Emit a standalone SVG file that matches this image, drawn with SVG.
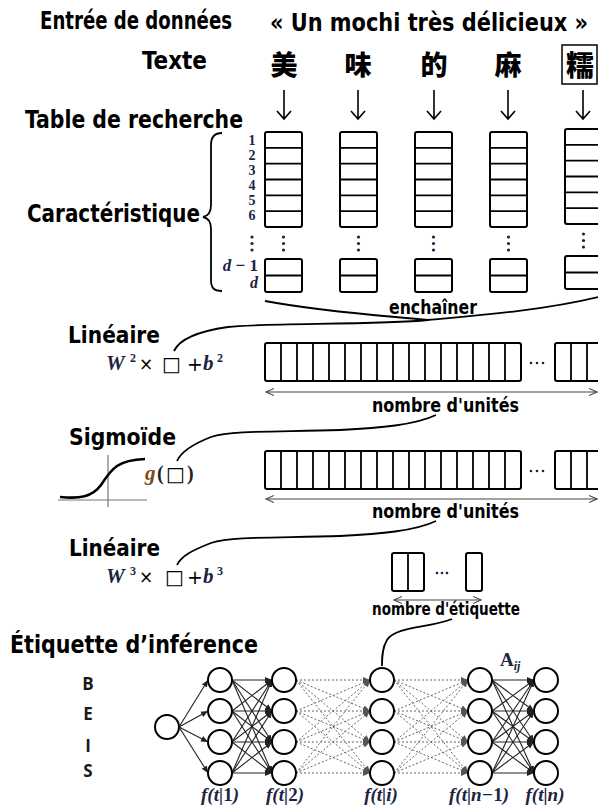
<svg xmlns="http://www.w3.org/2000/svg" xmlns:xlink="http://www.w3.org/1999/xlink" width="598" height="809" viewBox="0 0 598 809">
<style>
.h{font-family:"DejaVu Sans Condensed","DejaVu Sans",sans-serif;font-weight:bold;fill:#000}
.m{font-family:"Liberation Serif",serif;font-weight:bold;font-style:italic;fill:#1c2442}
.n{font-family:"Liberation Serif",serif;font-weight:bold;fill:#1c2442}
.sym{font-family:"DejaVu Sans",sans-serif;font-weight:normal;font-style:normal;fill:#000}
.cjk{font-family:"Noto Sans CJK SC",sans-serif;font-weight:900;fill:#000}
.box{fill:#fff;stroke:#000;stroke-width:2}
.cell{stroke:#000;stroke-width:1.8}
.dot{fill:#1c2442}
.cv{fill:none;stroke:#000;stroke-width:1.8}
.ar{fill:none;stroke:#000;stroke-width:1.6}
.ms{fill:none;stroke:#444;stroke-width:1.1}
.e{stroke:#222;stroke-width:1.1;marker-end:url(#ah)}
.d{stroke:#666;stroke-width:1;stroke-dasharray:2 2;marker-end:url(#ahg)}
.node{fill:#fff;stroke:#000;stroke-width:2}
.bl{font-family:"Open Sans","DejaVu Sans",sans-serif;font-weight:bold;font-size:17px;fill:#1a1a1a}
</style>
<defs>
<marker id="ah" markerWidth="8" markerHeight="8" refX="7" refY="4" orient="auto" markerUnits="userSpaceOnUse"><path d="M0,1 L7,4 L0,7 z" fill="#222"/></marker>
<marker id="ahg" markerWidth="8" markerHeight="8" refX="7" refY="4" orient="auto" markerUnits="userSpaceOnUse"><path d="M0,1 L7,4 L0,7 z" fill="#555"/></marker>
<marker id="oa" markerWidth="10" markerHeight="10" refX="8" refY="4" orient="auto-start-reverse" markerUnits="userSpaceOnUse"><path d="M0,0.5 L8,4 L0,7.5" fill="none" stroke="#444" stroke-width="1.1"/></marker>
<g id="lut">
<rect class="box" x="0" y="132" width="37" height="95" rx="2"/>
<path class="cell" d="M0,147.8H37M0,163.7H37M0,179.5H37M0,195.3H37M0,211.2H37"/>
<circle class="dot" cx="18.5" cy="237" r="1.6"/><circle class="dot" cx="18.5" cy="243.5" r="1.6"/><circle class="dot" cx="18.5" cy="250" r="1.6"/>
<rect class="box" x="0" y="259" width="37" height="33" rx="2"/>
<path class="cell" d="M0,275.5H37"/>
</g>
<g id="bar">
<rect class="box" x="265" y="0" width="256" height="38" rx="2"/>
<path class="cell" d="M281,0V38M297,0V38M313,0V38M329,0V38M345,0V38M361,0V38M377,0V38M393,0V38M409,0V38M425,0V38M441,0V38M457,0V38M473,0V38M489,0V38M505,0V38"/>
<circle class="dot" cx="531" cy="20" r="1.3"/><circle class="dot" cx="537" cy="20" r="1.3"/><circle class="dot" cx="543" cy="20" r="1.3"/>
<rect class="box" x="555" y="0" width="60" height="38" rx="2"/>
<path class="cell" d="M571,0V38M587,0V38"/>
</g>
</defs>
<rect width="598" height="809" fill="#fff"/>

<g id="header">
<text class="h" x="40" y="29" font-size="25" textLength="192" lengthAdjust="spacingAndGlyphs">Entrée de données</text>
<text class="h" transform="translate(270,31) scale(0.8,1)" x="0" y="0" font-size="25" textLength="397.5" lengthAdjust="spacingAndGlyphs">« Un mochi très délicieux »</text>
<text class="h" x="142" y="69" font-size="25" textLength="65" lengthAdjust="spacingAndGlyphs">Texte</text>
<text class="h" x="25" y="128" font-size="25" textLength="218" lengthAdjust="spacingAndGlyphs">Table de recherche</text>
<text class="h" x="27" y="222" font-size="25" textLength="173" lengthAdjust="spacingAndGlyphs">Caractéristique</text>
</g>

<g id="chars">
<text class="cjk" x="284" y="75" font-size="27" text-anchor="middle">美</text>
<text class="cjk" x="358" y="75" font-size="27" text-anchor="middle">味</text>
<text class="cjk" x="434" y="75" font-size="27" text-anchor="middle">的</text>
<text class="cjk" x="508" y="75" font-size="27" text-anchor="middle">麻</text>
<g id="char-boxed">
<rect x="562" y="45" width="35" height="39" fill="#fff" stroke="#000" stroke-width="1.5"/>
<text class="cjk" x="580" y="76" font-size="28" font-weight="400" text-anchor="middle">糯</text>
</g>
</g>

<g id="lookup-table">
<g id="lut1" transform="translate(265,0)"><use xlink:href="#lut"/></g>
<g id="lut2" transform="translate(340,0)"><use xlink:href="#lut"/></g>
<g id="lut3" transform="translate(415,0)"><use xlink:href="#lut"/></g>
<g id="lut4" transform="translate(490,0)"><use xlink:href="#lut"/></g>
<g id="lut5" transform="translate(565,-3)"><use xlink:href="#lut"/></g>
</g>

<g id="feature-index">
<text class="n" font-size="14" text-anchor="middle"><tspan x="252" y="145">1</tspan><tspan x="252" y="160">2</tspan><tspan x="252" y="175">3</tspan><tspan x="252" y="190">4</tspan><tspan x="252" y="205">5</tspan><tspan x="252" y="220">6</tspan></text>
<circle class="dot" cx="252" cy="237" r="1.6"/><circle class="dot" cx="252" cy="243.5" r="1.6"/><circle class="dot" cx="252" cy="250" r="1.6"/>
<text class="n" x="258" y="271" font-size="17" text-anchor="end"><tspan font-style="italic">d</tspan> − 1</text>
<text class="m" x="258" y="288" font-size="16" text-anchor="end">d</text>
<path class="cv" d="M222,133 C214,133 211,137 211,145 L211,205 C211,212 208,216 203,217 C208,218 211,222 211,229 L211,280 C211,288 214,291 222,291"/>
</g>

<g id="concat">
<text class="h" x="389" y="314" font-size="19" textLength="88" lengthAdjust="spacingAndGlyphs">enchaîner</text>
</g>

<g id="linear1">
<text class="h" x="68" y="343" font-size="23" textLength="92" lengthAdjust="spacingAndGlyphs">Linéaire</text>
<text class="m" y="370" font-size="21"><tspan x="106">W</tspan><tspan class="n" x="130" dy="-8" font-size="12" font-style="normal">2</tspan><tspan class="sym" x="139" dy="8" font-size="17">×</tspan><tspan class="sym" x="162" dy="1" font-size="20">□</tspan><tspan class="sym" x="187" font-size="19">+</tspan><tspan x="203" dy="-1">b</tspan><tspan class="n" x="217" dy="-8" font-size="12" font-style="normal">2</tspan></text>
</g>
<g id="units1">
<use xlink:href="#bar" transform="translate(0,343)"/>
<line class="ms" x1="266" y1="392" x2="597" y2="392" marker-start="url(#oa)" marker-end="url(#oa)"/>
<text class="h" x="372" y="412" font-size="20" textLength="147" lengthAdjust="spacingAndGlyphs">nombre d'unités</text>
</g>

<g id="sigmoid">
<text class="h" x="69" y="445" font-size="23" textLength="107" lengthAdjust="spacingAndGlyphs">Sigmoïde</text>
<path d="M58,500 H147 M108,455 V507" stroke="#777" stroke-width="1.2" fill="none"/>
<path d="M60,497 C80,499 92,497 101,485 C112,468 118,460 145,459" fill="none" stroke="#000" stroke-width="2.6"/>
<text class="n" y="480" font-size="20" style="fill:#222"><tspan class="m" x="145" font-size="21" style="fill:#7a4a1a">g</tspan><tspan x="157">(</tspan><tspan class="sym" x="166" dy="1">□</tspan><tspan x="187" dy="-1">)</tspan></text>
</g>
<g id="units2">
<use xlink:href="#bar" transform="translate(0,451)"/>
<line class="ms" x1="266" y1="499" x2="597" y2="499" marker-start="url(#oa)" marker-end="url(#oa)"/>
<text class="h" x="372" y="518" font-size="20" textLength="147" lengthAdjust="spacingAndGlyphs">nombre d'unités</text>
</g>

<g id="linear2">
<text class="h" x="69" y="556" font-size="23" textLength="91" lengthAdjust="spacingAndGlyphs">Linéaire</text>
<text class="m" y="583" font-size="21"><tspan x="106">W</tspan><tspan class="n" x="130" dy="-8" font-size="12" font-style="normal">3</tspan><tspan class="sym" x="139" dy="8" font-size="17">×</tspan><tspan class="sym" x="165" dy="1" font-size="20">□</tspan><tspan class="sym" x="187" font-size="19">+</tspan><tspan x="203" dy="-1">b</tspan><tspan class="n" x="217" dy="-8" font-size="12" font-style="normal">3</tspan></text>
</g>
<g id="labels-out">
<rect class="box" x="392" y="553" width="32" height="38" rx="2"/>
<path class="cell" d="M408,553V591"/>
<circle class="dot" cx="437" cy="573" r="1.3"/><circle class="dot" cx="442" cy="573" r="1.3"/><circle class="dot" cx="447" cy="573" r="1.3"/>
<rect class="box" x="466" y="553" width="16" height="38" rx="2"/>
<line class="ms" x1="394" y1="600" x2="481" y2="600" marker-start="url(#oa)" marker-end="url(#oa)"/>
<text class="h" x="372" y="615" font-size="17" textLength="148" lengthAdjust="spacingAndGlyphs">nombre d'étiquette</text>
</g>

<g id="inference">
<text class="h" x="10" y="653" font-size="25" textLength="248" lengthAdjust="spacingAndGlyphs">Étiquette d’inférence</text>
<text class="bl" x="88" y="690" text-anchor="middle">B</text>
<text class="bl" x="88" y="720" text-anchor="middle">E</text>
<text class="bl" x="88" y="752" text-anchor="middle">I</text>
<text class="bl" x="88" y="777" text-anchor="middle">S</text>
</g>

<g id="connectors">
<path class="ar" d="M284,90V119M277,111L284,119L291,111"/>
<path class="ar" d="M358,90V119M351,111L358,119L365,111"/>
<path class="ar" d="M434,90V119M427,111L434,119L441,111"/>
<path class="ar" d="M508,90V119M501,111L508,119L515,111"/>
<path class="ar" d="M583,90V119M576,111L583,119L590,111"/>
<path class="cv" d="M265,301 C330,313 390,316 428,320 C470,316 540,311 598,297"/>
<path class="cv" d="M428,320 C380,325 262,323 228,327 C200,331 180,338 174,351"/>
<path class="cv" d="M436,415 C415,425 380,428 340,430 C280,432 232,430 211,437 C193,444 181,452 177,461"/>
<path class="cv" d="M436,521 C415,531 380,534 340,536 C280,538 232,536 211,543 C193,550 181,556 177,565"/>
<path class="cv" d="M452,619 C430,628 396,626 387,640 C382,648 382,658 382,666"/>
<g id="edges-in">
<line class="e" x1="179" y1="727" x2="208" y2="680"/><line class="e" x1="179" y1="727" x2="208" y2="711"/><line class="e" x1="179" y1="727" x2="208" y2="742"/><line class="e" x1="179" y1="727" x2="208" y2="773"/>
</g>
<g id="edges-1-2">
<line class="e" x1="232" y1="680" x2="272" y2="680"/><line class="e" x1="232" y1="680" x2="272" y2="711"/><line class="e" x1="232" y1="680" x2="272" y2="742"/><line class="e" x1="232" y1="680" x2="272" y2="773"/>
<line class="e" x1="232" y1="711" x2="272" y2="680"/><line class="e" x1="232" y1="711" x2="272" y2="711"/><line class="e" x1="232" y1="711" x2="272" y2="742"/><line class="e" x1="232" y1="711" x2="272" y2="773"/>
<line class="e" x1="232" y1="742" x2="272" y2="680"/><line class="e" x1="232" y1="742" x2="272" y2="711"/><line class="e" x1="232" y1="742" x2="272" y2="742"/><line class="e" x1="232" y1="742" x2="272" y2="773"/>
<line class="e" x1="232" y1="773" x2="272" y2="680"/><line class="e" x1="232" y1="773" x2="272" y2="711"/><line class="e" x1="232" y1="773" x2="272" y2="742"/><line class="e" x1="232" y1="773" x2="272" y2="773"/>
</g>
<g id="edges-2-i">
<line class="d" x1="296" y1="680" x2="370" y2="680"/><line class="d" x1="296" y1="680" x2="370" y2="711"/><line class="d" x1="296" y1="680" x2="370" y2="742"/><line class="d" x1="296" y1="680" x2="370" y2="773"/>
<line class="d" x1="296" y1="711" x2="370" y2="680"/><line class="d" x1="296" y1="711" x2="370" y2="711"/><line class="d" x1="296" y1="711" x2="370" y2="742"/><line class="d" x1="296" y1="711" x2="370" y2="773"/>
<line class="d" x1="296" y1="742" x2="370" y2="680"/><line class="d" x1="296" y1="742" x2="370" y2="711"/><line class="d" x1="296" y1="742" x2="370" y2="742"/><line class="d" x1="296" y1="742" x2="370" y2="773"/>
<line class="d" x1="296" y1="773" x2="370" y2="680"/><line class="d" x1="296" y1="773" x2="370" y2="711"/><line class="d" x1="296" y1="773" x2="370" y2="742"/><line class="d" x1="296" y1="773" x2="370" y2="773"/>
</g>
<g id="edges-i-n1">
<line class="d" x1="394" y1="680" x2="468" y2="680"/><line class="d" x1="394" y1="680" x2="468" y2="711"/><line class="d" x1="394" y1="680" x2="468" y2="742"/><line class="d" x1="394" y1="680" x2="468" y2="773"/>
<line class="d" x1="394" y1="711" x2="468" y2="680"/><line class="d" x1="394" y1="711" x2="468" y2="711"/><line class="d" x1="394" y1="711" x2="468" y2="742"/><line class="d" x1="394" y1="711" x2="468" y2="773"/>
<line class="d" x1="394" y1="742" x2="468" y2="680"/><line class="d" x1="394" y1="742" x2="468" y2="711"/><line class="d" x1="394" y1="742" x2="468" y2="742"/><line class="d" x1="394" y1="742" x2="468" y2="773"/>
<line class="d" x1="394" y1="773" x2="468" y2="680"/><line class="d" x1="394" y1="773" x2="468" y2="711"/><line class="d" x1="394" y1="773" x2="468" y2="742"/><line class="d" x1="394" y1="773" x2="468" y2="773"/>
</g>
<g id="edges-n1-n">
<line class="e" x1="492" y1="680" x2="534" y2="680"/><line class="e" x1="492" y1="680" x2="534" y2="711"/><line class="e" x1="492" y1="680" x2="534" y2="742"/><line class="e" x1="492" y1="680" x2="534" y2="773"/>
<line class="e" x1="492" y1="711" x2="534" y2="680"/><line class="e" x1="492" y1="711" x2="534" y2="711"/><line class="e" x1="492" y1="711" x2="534" y2="742"/><line class="e" x1="492" y1="711" x2="534" y2="773"/>
<line class="e" x1="492" y1="742" x2="534" y2="680"/><line class="e" x1="492" y1="742" x2="534" y2="711"/><line class="e" x1="492" y1="742" x2="534" y2="742"/><line class="e" x1="492" y1="742" x2="534" y2="773"/>
<line class="e" x1="492" y1="773" x2="534" y2="680"/><line class="e" x1="492" y1="773" x2="534" y2="711"/><line class="e" x1="492" y1="773" x2="534" y2="742"/><line class="e" x1="492" y1="773" x2="534" y2="773"/>
</g>
</g>

<g id="node-input"><circle class="node" cx="167" cy="727" r="12"/></g>
<g id="col-1">
<circle class="node" cx="220" cy="680" r="12"/><circle class="node" cx="220" cy="711" r="12"/><circle class="node" cx="220" cy="742" r="12"/><circle class="node" cx="220" cy="773" r="12"/>
<text class="m" x="220" y="801" font-size="19" text-anchor="middle">f(t|<tspan font-style="normal">1</tspan>)</text>
</g>
<g id="col-2">
<circle class="node" cx="284" cy="680" r="12"/><circle class="node" cx="284" cy="711" r="12"/><circle class="node" cx="284" cy="742" r="12"/><circle class="node" cx="284" cy="773" r="12"/>
<text class="m" x="285" y="801" font-size="19" text-anchor="middle">f(t|<tspan font-style="normal">2</tspan>)</text>
</g>
<g id="col-i">
<circle class="node" cx="382" cy="680" r="12"/><circle class="node" cx="382" cy="711" r="12"/><circle class="node" cx="382" cy="742" r="12"/><circle class="node" cx="382" cy="773" r="12"/>
<text class="m" x="381" y="801" font-size="19" text-anchor="middle">f(t|i)</text>
</g>
<g id="col-n1">
<circle class="node" cx="480" cy="680" r="12"/><circle class="node" cx="480" cy="711" r="12"/><circle class="node" cx="480" cy="742" r="12"/><circle class="node" cx="480" cy="773" r="12"/>
<text class="m" x="479" y="801" font-size="19" text-anchor="middle">f(t|n−<tspan font-style="normal">1</tspan>)</text>
<text class="n" x="500" y="666" font-size="19">A<tspan font-style="italic" font-size="12" dy="4">ij</tspan></text>
</g>
<g id="col-n">
<circle class="node" cx="546" cy="680" r="12"/><circle class="node" cx="546" cy="711" r="12"/><circle class="node" cx="546" cy="742" r="12"/><circle class="node" cx="546" cy="773" r="12"/>
<text class="m" x="545" y="801" font-size="19" text-anchor="middle">f(t|n)</text>
</g>
</svg>
